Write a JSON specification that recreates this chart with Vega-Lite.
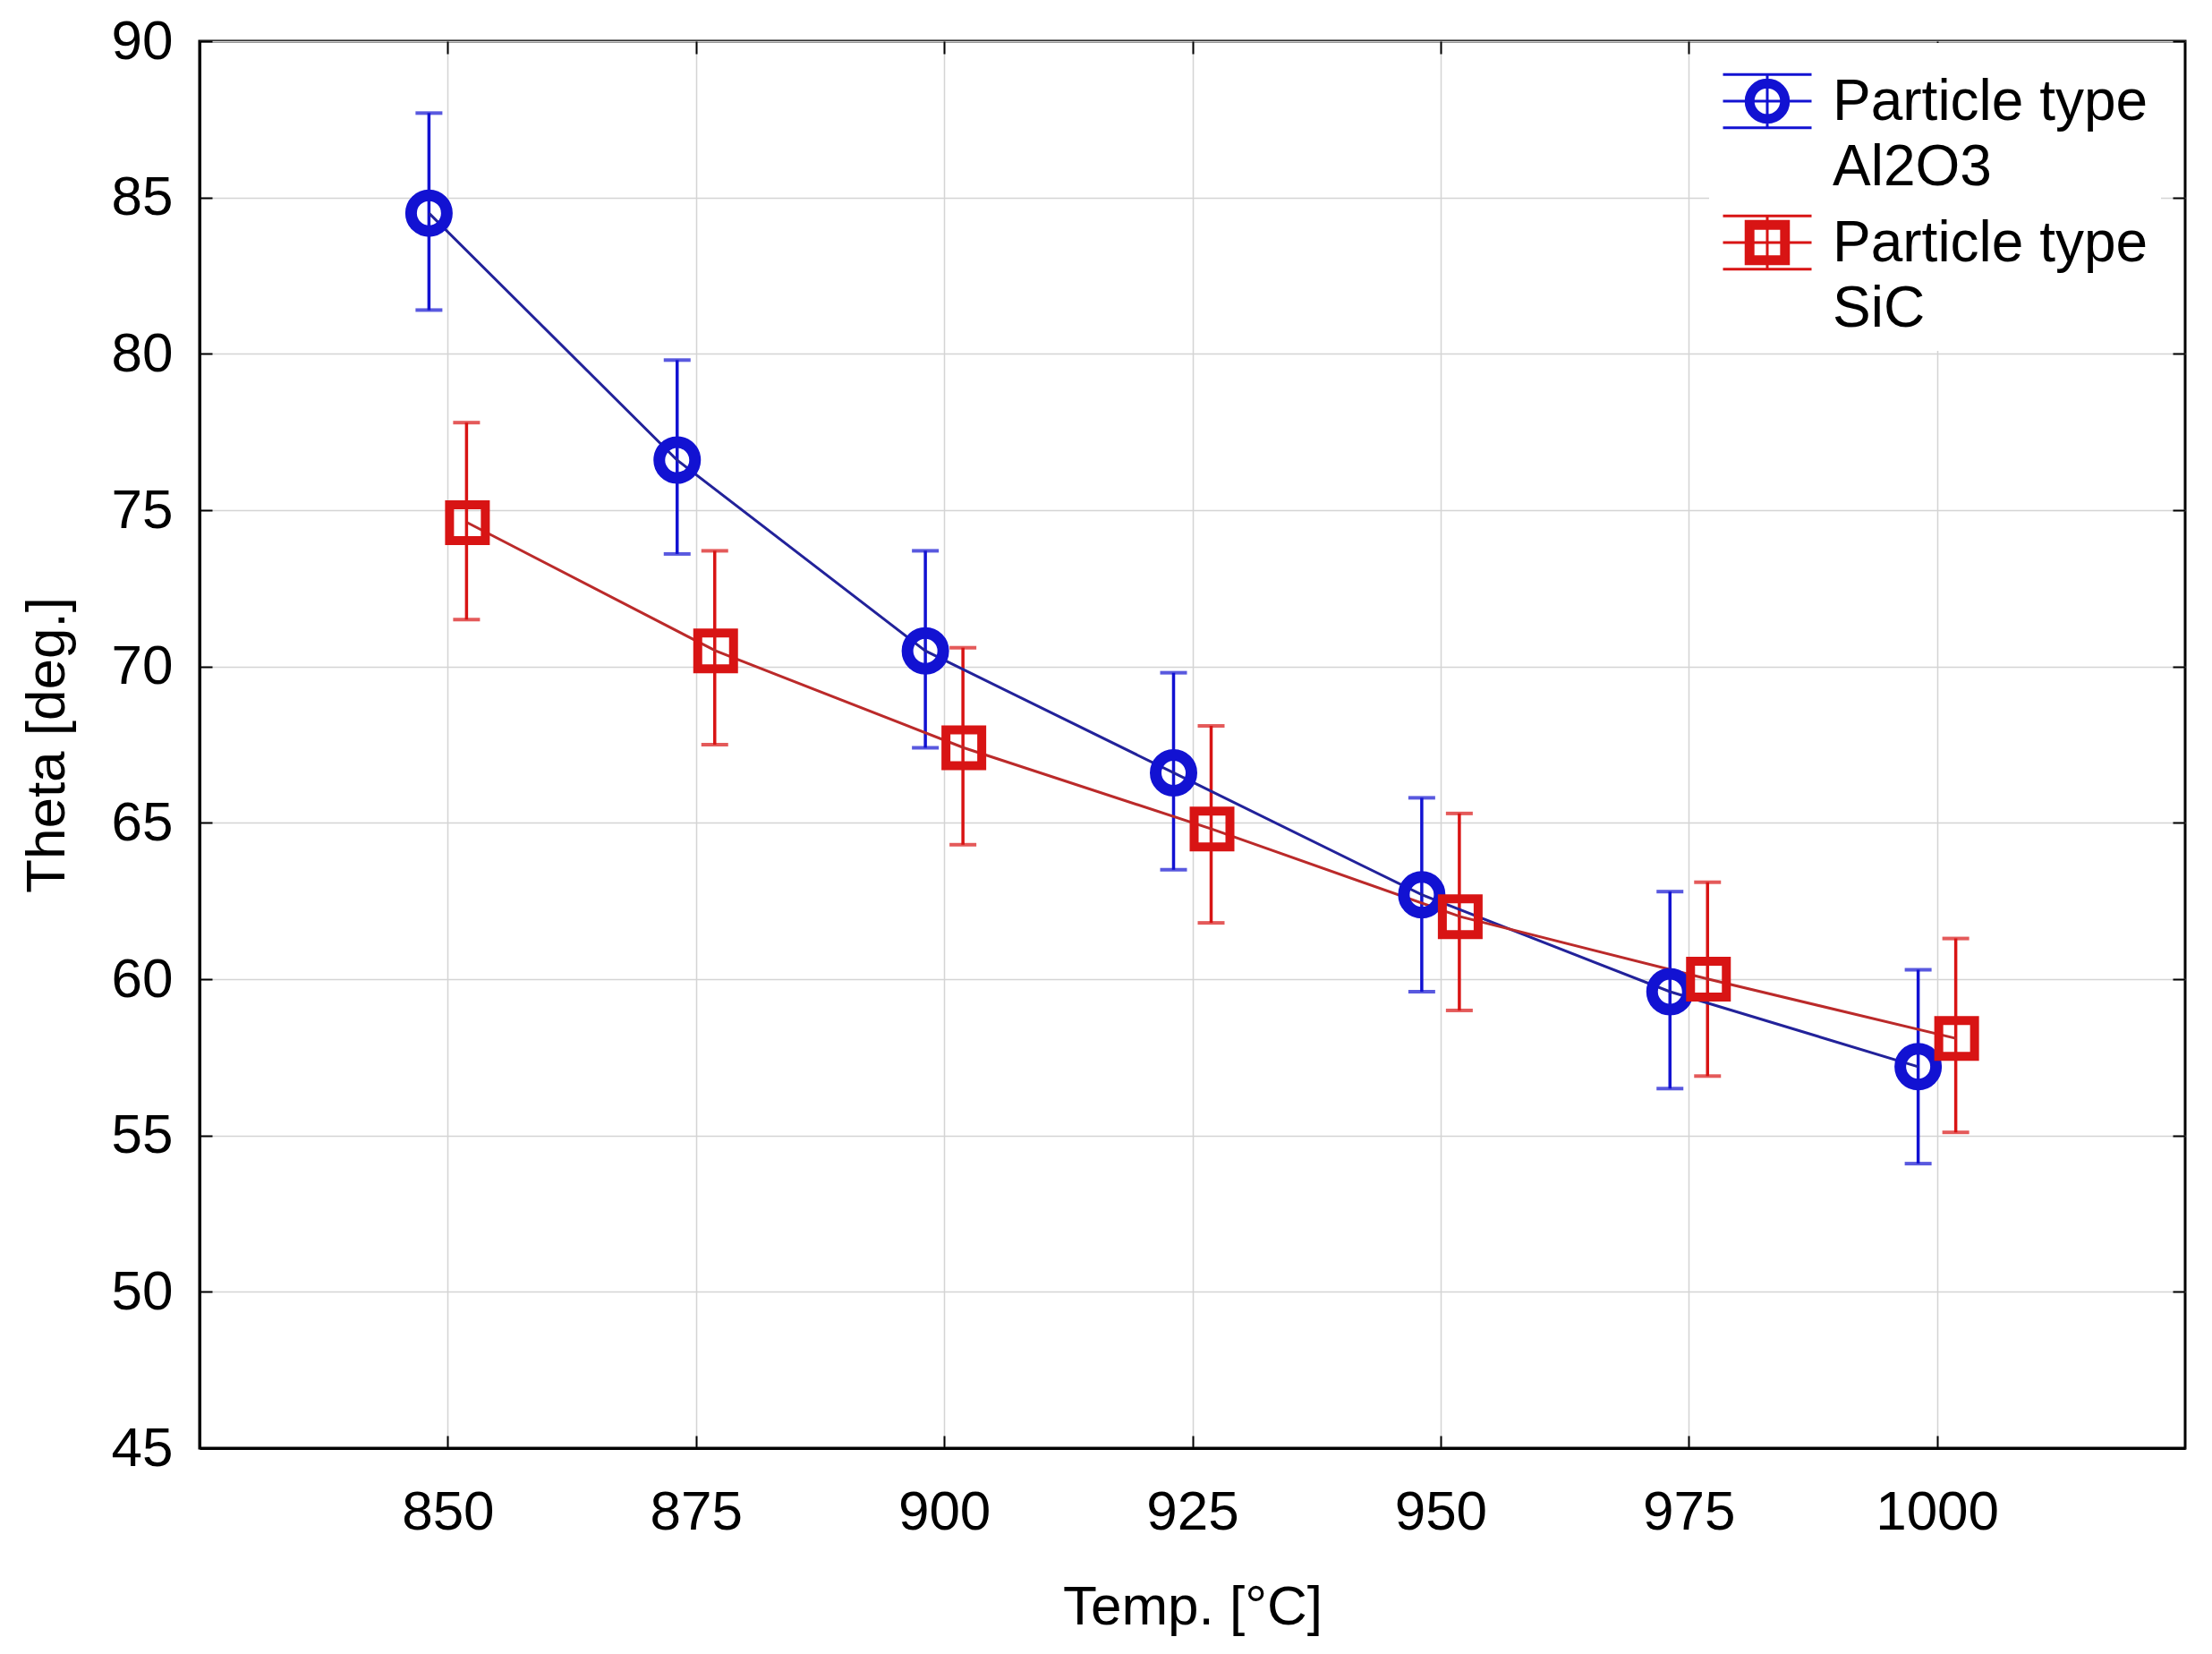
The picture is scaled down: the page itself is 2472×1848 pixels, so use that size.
{
  "$schema": "https://vega.github.io/schema/vega-lite/v6.json",
  "description": "Theta vs temperature for Al2O3 and SiC particles, means with error bars",
  "autosize": {"type": "none"},
  "width": 2219,
  "height": 1572,
  "padding": {"left": 223, "top": 46, "right": 30, "bottom": 230},
  "background": "white",
  "config": {
    "font": "Liberation Sans",
    "view": {"stroke": "black", "strokeWidth": 3},
    "axis": {
      "labelFont": "Liberation Sans",
      "titleFont": "Liberation Sans",
      "labelFontSize": 62,
      "titleFontSize": 62,
      "titleFontWeight": "normal",
      "labelColor": "black",
      "titleColor": "black",
      "domainColor": "black",
      "domainWidth": 3,
      "tickColor": "black",
      "tickWidth": 2,
      "tickSize": -14,
      "gridColor": "#d4d4d4",
      "gridWidth": 1.5
    }
  },
  "data": {
    "values": [
      {"temp": 850, "type": "Al2O3", "theta": 84.5, "lo": 81.4, "hi": 87.7},
      {"temp": 875, "type": "Al2O3", "theta": 76.6, "lo": 73.6, "hi": 79.8},
      {"temp": 900, "type": "Al2O3", "theta": 70.5, "lo": 67.4, "hi": 73.7},
      {"temp": 925, "type": "Al2O3", "theta": 66.6, "lo": 63.5, "hi": 69.8},
      {"temp": 950, "type": "Al2O3", "theta": 62.7, "lo": 59.6, "hi": 65.8},
      {"temp": 975, "type": "Al2O3", "theta": 59.6, "lo": 56.5, "hi": 62.8},
      {"temp": 1000, "type": "Al2O3", "theta": 57.2, "lo": 54.1, "hi": 60.3},
      {"temp": 850, "type": "SiC", "theta": 74.6, "lo": 71.5, "hi": 77.8},
      {"temp": 875, "type": "SiC", "theta": 70.5, "lo": 67.5, "hi": 73.7},
      {"temp": 900, "type": "SiC", "theta": 67.4, "lo": 64.3, "hi": 70.6},
      {"temp": 925, "type": "SiC", "theta": 64.8, "lo": 61.8, "hi": 68.1},
      {"temp": 950, "type": "SiC", "theta": 62.0, "lo": 59.0, "hi": 65.3},
      {"temp": 975, "type": "SiC", "theta": 60.0, "lo": 56.9, "hi": 63.1},
      {"temp": 1000, "type": "SiC", "theta": 58.1, "lo": 55.1, "hi": 61.3}
    ]
  },
  "layer": [
    {
      "mark": {"type": "rule", "strokeWidth": 3.5, "xOffset": {"expr": "datum.type === 'Al2O3' ? -21 : 21"}},
      "encoding": {
        "x": {
          "field": "temp",
          "type": "quantitative",
          "scale": {"domain": [825, 1025], "nice": false, "zero": false},
          "axis": {"orient": "top", "labels": false, "grid": false, "domain": false, "title": null, "values": [850, 875, 900, 925, 950, 975, 1000]}
        },
        "y": {
          "field": "lo",
          "type": "quantitative",
          "scale": {"domain": [45, 90], "nice": false, "zero": false},
          "axis": {"orient": "right", "labels": false, "grid": false, "domain": false, "title": null, "values": [45, 50, 55, 60, 65, 70, 75, 80, 85, 90]}
        },
        "y2": {"field": "hi"},
        "color": {
          "field": "type",
          "type": "nominal",
          "scale": {"domain": ["Al2O3", "SiC"], "range": ["#1212d2", "#d81414"]},
          "legend": {
            "orient": "none",
            "legendX": 1687,
            "legendY": 2,
            "padding": 14,
            "fillColor": "white",
            "title": null,
            "labelExpr": "['Particle type', datum.label]",
            "labelFont": "Liberation Sans",
            "labelFontSize": 64,
            "labelColor": "black",
            "labelLimit": 800,
            "labelOffset": 22,
            "labelBaseline": "alphabetic",
            "symbolSize": 9801,
            "symbolStrokeWidth": 3,
            "symbolType": "M -1 -0.6 L 1 -0.6 M -1 0 L 1 0 M -1 0.6 L 1 0.6 M 0 -0.6 L 0 0.6",
            "rowPadding": -16,
            "encode": {
              "symbols": {
                "update": {
                  "shape": {"signal": "datum.value === 'Al2O3' ? 'M -1 -0.6 L 1 -0.6 M -1 0 L 1 0 M -1 0.6 L 1 0.6 M 0 -0.6 L 0 0.6 M 0.48 0 A 0.48 0.48 0 1 1 -0.48 0 A 0.48 0.48 0 1 1 0.48 0 Z M 0.32 0 A 0.32 0.32 0 1 0 -0.32 0 A 0.32 0.32 0 1 0 0.32 0 Z' : 'M -1 -0.6 L 1 -0.6 M -1 0 L 1 0 M -1 0.6 L 1 0.6 M 0 -0.6 L 0 0.6 M -0.48 -0.48 L 0.48 -0.48 L 0.48 0.48 L -0.48 0.48 Z M -0.32 -0.32 L -0.32 0.32 L 0.32 0.32 L 0.32 -0.32 Z'"},
                  "fill": {"signal": "datum.value === 'Al2O3' ? '#1212d2' : '#d81414'"},
                  "stroke": {"signal": "datum.value === 'Al2O3' ? '#1212d2' : '#d81414'"},
                  "strokeWidth": {"value": 3},
                  "opacity": {"value": 1},
                  "fillOpacity": {"value": 1}
                }
              },
              "labels": {
                "update": {
                  "dy": {"value": 21},
                  "lineHeight": {"value": 73}
                }
              }
            }
          }
        }
      }
    },
    {
      "mark": {"type": "tick", "orient": "horizontal", "size": 30, "thickness": 4, "xOffset": {"expr": "datum.type === 'Al2O3' ? -21 : 21"}},
      "encoding": {
        "x": {"field": "temp", "type": "quantitative", "axis": null},
        "y": {"field": "lo", "type": "quantitative", "axis": null},
        "color": {"field": "type", "type": "nominal"}
      }
    },
    {
      "mark": {"type": "tick", "orient": "horizontal", "size": 30, "thickness": 4, "xOffset": {"expr": "datum.type === 'Al2O3' ? -21 : 21"}},
      "encoding": {
        "x": {"field": "temp", "type": "quantitative", "axis": null},
        "y": {"field": "hi", "type": "quantitative", "axis": null},
        "color": {"field": "type", "type": "nominal"}
      }
    },
    {
      "mark": {"type": "line", "strokeWidth": 3, "xOffset": {"expr": "datum.type === 'Al2O3' ? -21 : 22"}},
      "encoding": {
        "x": {"field": "temp", "type": "quantitative", "axis": null},
        "y": {"field": "theta", "type": "quantitative", "axis": null},
        "stroke": {
          "field": "type",
          "type": "nominal",
          "scale": {"domain": ["Al2O3", "SiC"], "range": ["#22229a", "#bb2a2a"]},
          "legend": null
        }
      }
    },
    {
      "mark": {"type": "point", "filled": false, "opacity": 1, "xOffset": {"expr": "datum.type === 'Al2O3' ? -21 : 22"}},
      "encoding": {
        "x": {
          "field": "temp",
          "type": "quantitative",
          "title": "Temp. [°C]",
          "axis": {
            "values": [850, 875, 900, 925, 950, 975, 1000],
            "format": "d",
            "grid": true,
            "labelPadding": 55,
            "titlePadding": 45
          }
        },
        "y": {
          "field": "theta",
          "type": "quantitative",
          "title": "Theta [deg.]",
          "axis": {
            "values": [45, 50, 55, 60, 65, 70, 75, 80, 85, 90],
            "grid": true,
            "labelPadding": 44,
            "titlePadding": 40
          }
        },
        "shape": {
          "condition": {"test": "datum.type === 'Al2O3'", "value": "circle"},
          "value": "square"
        },
        "strokeWidth": {
          "condition": {"test": "datum.type === 'Al2O3'", "value": 13},
          "value": 10
        },
        "color": {"field": "type", "type": "nominal"},
        "size": {"value": 1600}
      }
    }
  ],
  "resolve": {"axis": {"x": "independent", "y": "independent"}}
}
